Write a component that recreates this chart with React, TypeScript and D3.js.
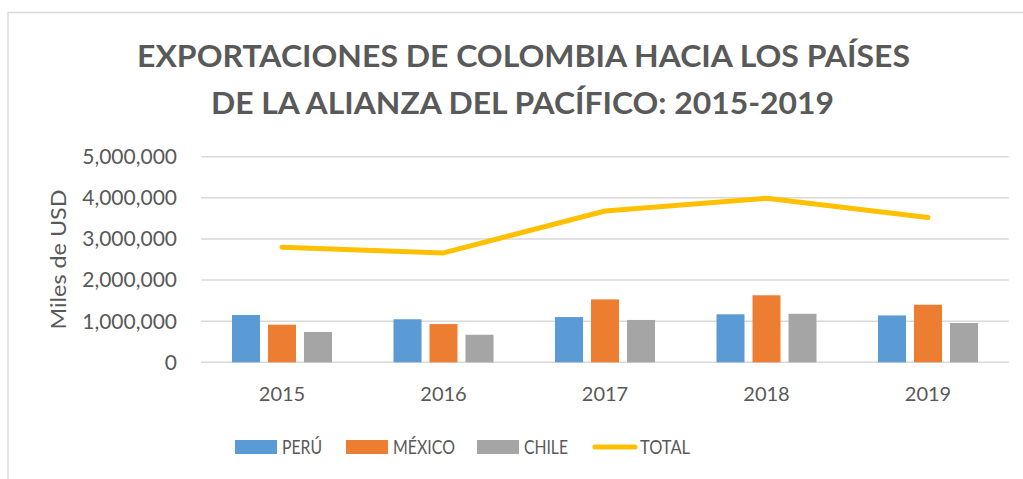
import React from "react";
import * as d3 from "d3";

// Exportaciones (miles de USD)
const years = ["2015", "2016", "2017", "2018", "2019"];
const peru = [1150000, 1046000, 1100000, 1167000, 1140000];
const mexico = [915000, 930000, 1530000, 1630000, 1400000];
const chile = [737000, 670000, 1030000, 1180000, 955000];
const total = [2800000, 2660000, 3680000, 3990000, 3520000];
const yTicks = [0, 1000000, 2000000, 3000000, 4000000, 5000000];

const seriesNames = ["PERÚ", "MÉXICO", "CHILE"];
const seriesColors = ["#5B9BD5", "#ED7D31", "#A5A5A5"];
const lineColor = "#FFC000";

const W = 1023;
const H = 479;
const plot = { left: 201.25, right: 1008.75, top: 156.7, bottom: 362.3 };
const textColor = "#595959";
const font = "Lato, 'Open Sans', sans-serif";

const App = () => {
  const x0 = d3.scaleBand().domain(years).range([plot.left, plot.right]);
  // bars: 28px wide, 8px apart, centred in each year
  const x1 = d3
    .scaleBand()
    .domain(seriesNames)
    .range([-50, 50])
    .paddingInner(8 / 36);
  const y = d3.scaleLinear().domain([0, 5000000]).range([plot.bottom, plot.top]);
  const fmt = d3.format(",");

  const cx = (yr) => x0(yr) + x0.bandwidth() / 2;
  const series = [peru, mexico, chile];

  const line = d3
    .line()
    .x((d, i) => cx(years[i]))
    .y((d) => y(d));

  // legend item x positions and label widths (Calibri in the original is narrower)
  const legendX = [235, 346, 477, 593];
  const legendW = [40, 62, 44, 50];
  const legendItems = [...seriesNames, "TOTAL"];

  return (
    <div style={{ position: "absolute", left: 0, top: 0 }}>
      <svg width={W} height={H} style={{ display: "block", fontFamily: font }}>
        <rect x={0} y={0} width={W} height={H} fill="#fff" />
        {/* chart frame */}
        <rect
          x={8}
          y={12.5}
          width={W + 20}
          height={H + 20}
          fill="#fff"
          stroke="#d9d9d9"
          strokeWidth={1.5}
        />

        {/* title */}
        <g fill={textColor} fontWeight="bold" fontSize={31} textAnchor="middle">
          <text x={523.5} y={67} textLength={773} lengthAdjust="spacingAndGlyphs">
            EXPORTACIONES DE COLOMBIA HACIA LOS PAÍSES
          </text>
          <text x={522.5} y={114} textLength={623} lengthAdjust="spacingAndGlyphs">
            DE LA ALIANZA DEL PACÍFICO: 2015-2019
          </text>
        </g>

        {/* grid + y ticks */}
        {yTicks.map((t) => (
          <g key={t}>
            <line
              x1={plot.left}
              x2={plot.right}
              y1={y(t)}
              y2={y(t)}
              stroke="#d9d9d9"
              strokeWidth={1.5}
            />
            <text
              x={177}
              y={y(t)}
              dy="0.35em"
              textAnchor="end"
              fontSize={21}
              fill={textColor}
            >
              {fmt(t)}
            </text>
          </g>
        ))}

        {/* y axis title */}
        <text
          transform={`translate(66, ${(plot.top + plot.bottom) / 2}) rotate(-90)`}
          textAnchor="middle"
          fontSize={21}
          fill={textColor}
          textLength={140}
          lengthAdjust="spacingAndGlyphs"
        >
          Miles de USD
        </text>

        {/* bars */}
        {series.map((vals, si) =>
          vals.map((v, i) => (
            <rect
              key={`${si}-${i}`}
              x={cx(years[i]) + x1(seriesNames[si])}
              y={y(v)}
              width={x1.bandwidth()}
              height={y(0) - y(v)}
              fill={seriesColors[si]}
            />
          ))
        )}

        {/* total line */}
        <path
          d={line(total)}
          fill="none"
          stroke={lineColor}
          strokeWidth={5}
          strokeLinecap="round"
          strokeLinejoin="round"
        />

        {/* x labels */}
        {years.map((yr) => (
          <text
            key={yr}
            x={cx(yr)}
            y={401}
            textAnchor="middle"
            fontSize={20}
            fill={textColor}
          >
            {yr}
          </text>
        ))}

        {/* legend */}
        {legendItems.map((name, i) => (
          <g key={name} transform={`translate(${legendX[i]}, 447)`}>
            {i < 3 ? (
              <rect x={0} y={-7} width={42} height={14} fill={seriesColors[i]} />
            ) : (
              <line
                x1={2}
                x2={42}
                y1={0}
                y2={0}
                stroke={lineColor}
                strokeWidth={5}
                strokeLinecap="round"
              />
            )}
            <text
              x={47}
              y={0}
              dy="0.36em"
              fontSize={20}
              fill={textColor}
              textLength={legendW[i]}
              lengthAdjust="spacingAndGlyphs"
            >
              {name}
            </text>
          </g>
        ))}
      </svg>
    </div>
  );
};

export default App;
